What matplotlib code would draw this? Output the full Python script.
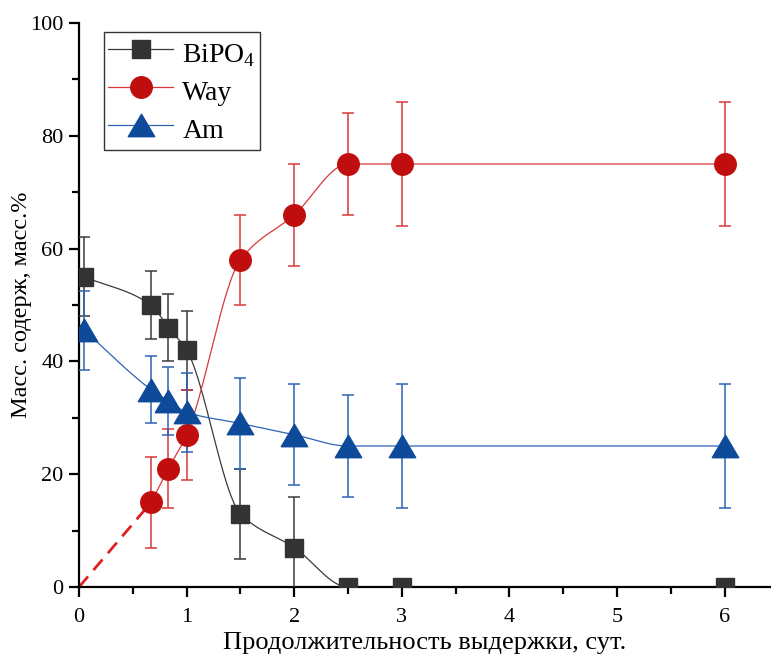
import numpy as np
import matplotlib
matplotlib.use("Agg")
import matplotlib.pyplot as plt
from matplotlib.path import Path

plt.rcParams['font.family'] = ['Liberation Serif', 'DejaVu Serif']
plt.rcParams['mathtext.fontset'] = 'custom'
plt.rcParams['mathtext.rm'] = 'Liberation Serif'

# data
days_bi = [0.05, 0.67, 0.83, 1.0, 1.5, 2.0, 2.5, 3.0, 6.0]
bipo4 = [55, 50, 46, 42, 13, 7, 0, 0, 0]
bipo4_err = [7, 6, 6, 7, 8, 9, 0, 0, 0]

days_way = [0.67, 0.83, 1.0, 1.5, 2.0, 2.5, 3.0, 6.0]
way = [15, 21, 27, 58, 66, 75, 75, 75]
way_err = [8, 7, 8, 8, 9, 9, 11, 11]
way_start = (0, 0)

days_am = [0.05, 0.67, 0.83, 1.0, 1.5, 2.0, 2.5, 3.0, 6.0]
am = [45.5, 35, 33, 31, 29, 27, 25, 25, 25]
am_err = [7, 6, 6, 7, 8, 9, 9, 11, 11]


def pchip(x, y, xs):
    # monotone cubic line through the points (for the connecting curve)
    x = np.asarray(x, float)
    y = np.asarray(y, float)
    h = np.diff(x)
    d = np.diff(y) / h
    m = np.zeros_like(y)
    m[0], m[-1] = d[0], d[-1]
    for k in range(1, len(x) - 1):
        if d[k - 1] * d[k] <= 0:
            m[k] = 0
        else:
            w1 = 2 * h[k] + h[k - 1]
            w2 = h[k] + 2 * h[k - 1]
            m[k] = (w1 + w2) / (w1 / d[k - 1] + w2 / d[k])
    idx = np.clip(np.searchsorted(x, xs) - 1, 0, len(x) - 2)
    t = (xs - x[idx]) / h[idx]
    h00 = 2 * t**3 - 3 * t**2 + 1
    h10 = t**3 - 2 * t**2 + t
    h01 = -2 * t**3 + 3 * t**2
    h11 = t**3 - t**2
    return h00 * y[idx] + h10 * h[idx] * m[idx] + h01 * y[idx + 1] + h11 * h[idx] * m[idx + 1]


tri = Path([(-1, -0.85), (1, -0.85), (0, 0.85), (-1, -0.85)],
           [Path.MOVETO, Path.LINETO, Path.LINETO, Path.CLOSEPOLY])

c_bi, c_bi_line = '#333333', '#3a3a3a'
c_way, c_way_line = '#c00d0d', '#d8383a'
c_am, c_am_line = '#0d4a99', '#2e63b5'
ms_sq, ms_ci, ms_tr = 13, 15.5, 19

fig = plt.figure(figsize=(7.71, 6.60), dpi=100)
ax = fig.add_axes([0.1025, 0.1106, 0.8975, 0.8545])

# connecting curves
xs = np.linspace(days_bi[0], days_bi[-1], 800)
ax.plot(xs, pchip(days_bi, bipo4, xs), color=c_bi_line, lw=0.9, zorder=2)
xs = np.linspace(days_way[0], days_way[-1], 800)
ax.plot(xs, pchip(days_way, way, xs), color=c_way_line, lw=0.9, zorder=2)
ax.plot([way_start[0], days_way[0]], [way_start[1], way[0]], color='#e02020',
        lw=2.0, ls=(0, (5, 3)), zorder=2)
xs = np.linspace(days_am[0], days_am[-1], 800)
ax.plot(xs, pchip(days_am, am, xs), color=c_am_line, lw=0.9, zorder=2)

# error bars + markers
ax.errorbar(days_bi, bipo4, yerr=bipo4_err, fmt='none', ecolor=c_bi_line,
            elinewidth=1.1, capsize=4, capthick=1.1, zorder=3)
ax.errorbar(days_way, way, yerr=way_err, fmt='none', ecolor=c_way_line,
            elinewidth=1.1, capsize=4, capthick=1.1, zorder=3)
ax.errorbar(days_am, am, yerr=am_err, fmt='none', ecolor=c_am_line,
            elinewidth=1.1, capsize=4, capthick=1.1, zorder=3)

ax.plot(days_bi, bipo4, ls='none', marker='s', ms=ms_sq, color=c_bi, zorder=4)
ax.plot(days_way, way, ls='none', marker='o', ms=ms_ci, color=c_way, zorder=4)
ax.plot(days_am, am, ls='none', marker=tri, ms=ms_tr, color=c_am, zorder=5)

# legend handles
h1, = ax.plot([], [], color=c_bi_line, lw=0.9, marker='s', ms=ms_sq, mfc=c_bi, mec=c_bi)
h2, = ax.plot([], [], color=c_way_line, lw=0.9, marker='o', ms=ms_ci, mfc=c_way, mec=c_way)
h3, = ax.plot([], [], color=c_am_line, lw=0.9, marker=tri, ms=ms_tr, mfc=c_am, mec=c_am)
leg = ax.legend([h1, h2, h3], [r'BiPO$_\mathregular{4}$', 'Way', 'Am'],
                loc='upper left', bbox_to_anchor=(0.036, 0.984), fontsize=20,
                frameon=True, fancybox=False, edgecolor='black',
                handlelength=2.35, handleheight=1.5, handletextpad=0.32,
                borderpad=0.15, labelspacing=0.15, borderaxespad=0)
leg.get_frame().set_linewidth(1.0)

ax.set_xlim(0, 6.43)
ax.set_ylim(0, 100)
ax.set_xticks(range(0, 7))
ax.set_xticks(np.arange(0.5, 6.5, 1.0), minor=True)
ax.set_yticks(range(0, 101, 20))
ax.set_yticks(range(10, 100, 20), minor=True)

for s in ['top', 'right']:
    ax.spines[s].set_visible(False)
for s in ['left', 'bottom']:
    ax.spines[s].set_linewidth(1.6)

ax.tick_params(which='major', direction='out', length=7, width=1.6, labelsize=16)
ax.tick_params(which='minor', direction='out', length=5, width=1.6)
ax.tick_params(axis='x', which='major', pad=8)
ax.tick_params(axis='y', which='major', pad=4)

ax.set_xlabel('Продолжительность выдержки, сут.', fontsize=19, labelpad=4)
ax.set_ylabel('Масс. содерж, масс.%', fontsize=17.5)
ax.yaxis.set_label_coords(-0.068, 0.5)

fig.savefig('out.png', dpi=100)
